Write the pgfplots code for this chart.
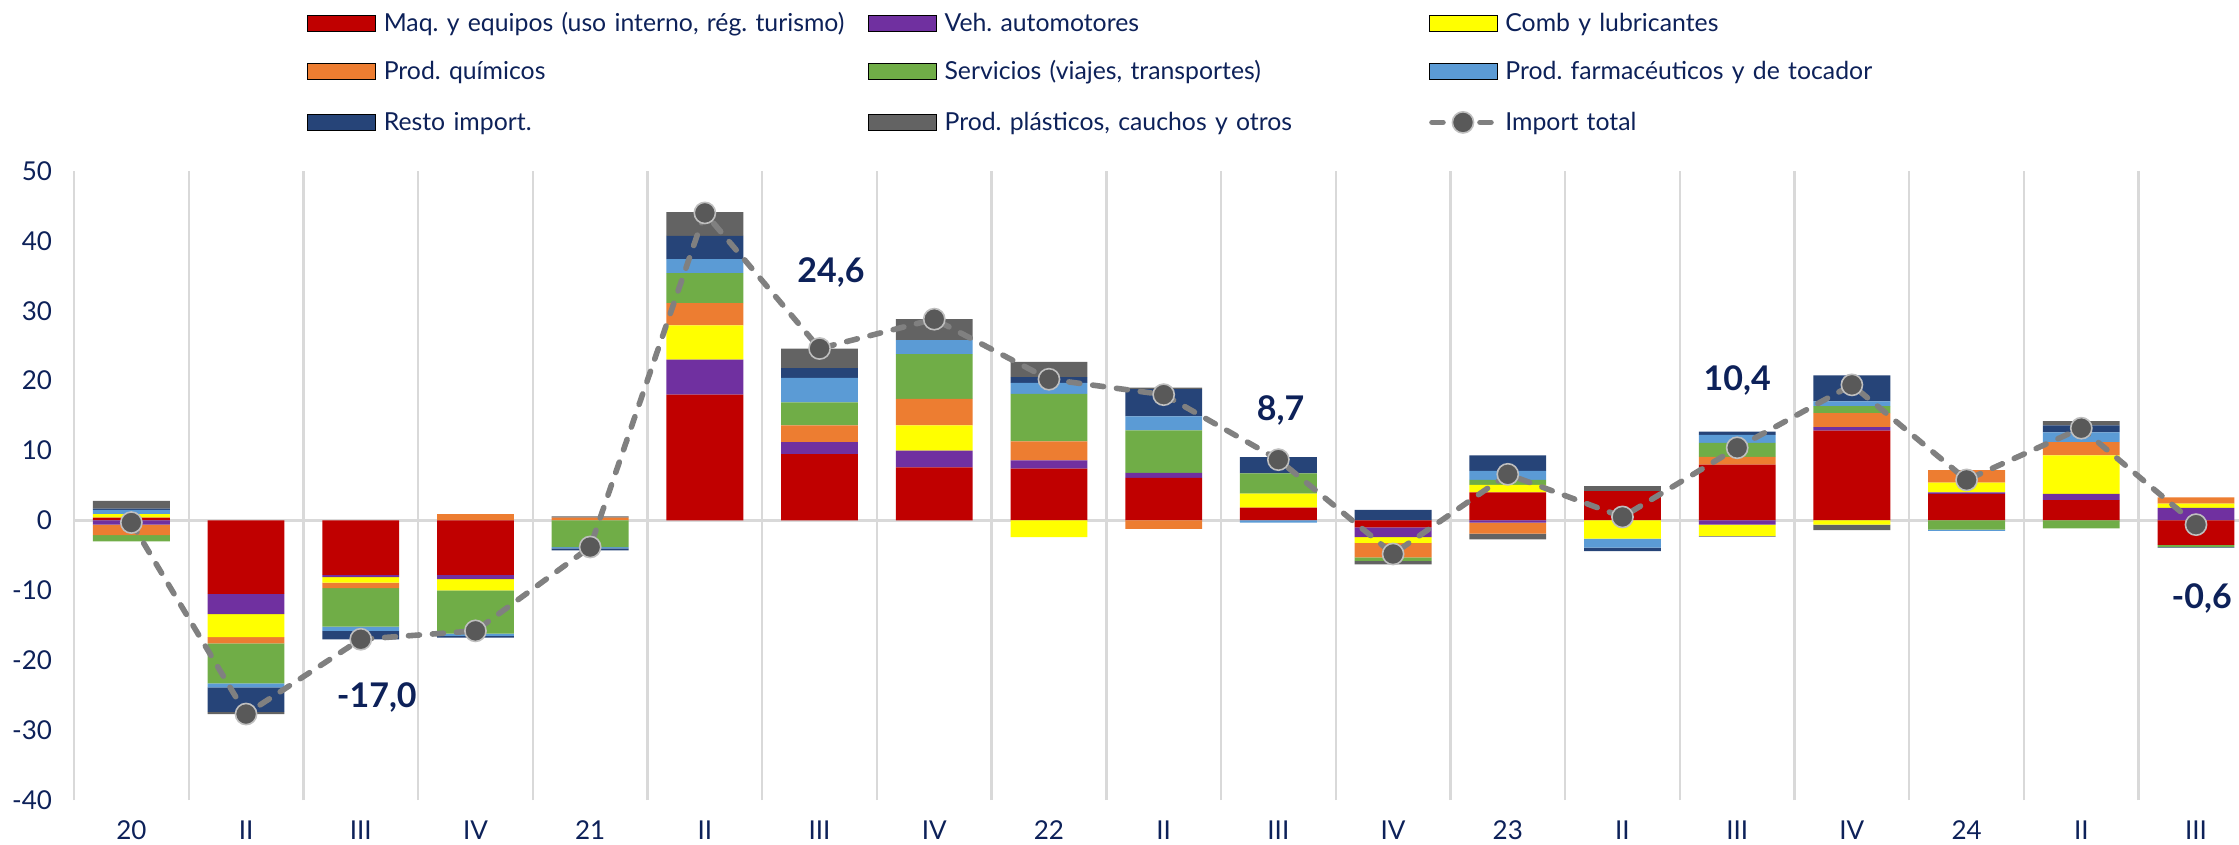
\documentclass[border=0pt]{standalone}
\usepackage{pgfplots}
\pgfplotsset{compat=1.18}
\usepackage{pgfplotstable}
\usepackage{fontspec}
\setmainfont{Lato}
\frenchspacing
\definecolor{cmaq}{HTML}{C00000}
\definecolor{cveh}{HTML}{7030A0}
\definecolor{ccomb}{HTML}{FFFF00}
\definecolor{cquim}{HTML}{ED7D31}
\definecolor{cserv}{HTML}{70AD47}
\definecolor{cfarma}{HTML}{5B9BD5}
\definecolor{cresto}{HTML}{264478}
\definecolor{cplast}{HTML}{636363}
\definecolor{navy}{HTML}{0D2159}
\definecolor{gridc}{HTML}{D9D9D9}
\definecolor{linec}{HTML}{808080}
\definecolor{markf}{HTML}{595959}
\definecolor{markb}{HTML}{BFBFBF}
\newcommand{\lb}[1]{\makebox[0pt][l]{#1}}

\pgfplotstableread{
x maq veh comb quim serv farma resto plast total
0 0.4 -0.6 0.5 -1.5 -0.9 0.6 0.2 1.1 -0.3
1 -10.5 -2.9 -3.3 -0.9 -5.7 -0.6 -3.5 -0.3 -27.7
2 -7.8 -0.3 -0.8 -0.8 -5.5 -0.6 -1.2 0 -17.0
3 -7.8 -0.6 -1.6 0.9 -6.2 -0.3 -0.25 0 -15.8
4 0 0 0 0.4 -3.8 -0.2 -0.3 0.2 -3.8
5 18.0 5.0 4.9 3.2 4.3 2.0 3.3 3.4 44.0
6 9.5 1.7 0 2.4 3.3 3.5 1.4 2.8 24.6
7 7.6 2.4 3.6 3.8 6.4 2.0 0 3.0 28.8
8 7.4 1.2 -2.4 2.7 6.8 1.6 0.8 2.2 20.2
9 6.1 0.7 0 -1.2 6.1 2.0 3.9 0.2 18.0
10 1.85 0 2.0 0 2.9 -0.3 2.3 0 8.7
11 -1.0 -1.4 -0.8 -2.1 -0.5 0 1.5 -0.5 -4.8
12 4.0 -0.3 1.1 -1.6 0.7 1.3 2.2 -0.8 6.6
13 4.2 0 -2.6 0 0 -1.3 -0.5 0.7 0.5
14 8.0 -0.6 -1.6 1.1 2.0 1.15 0.45 -0.1 10.4
15 12.85 0.5 -0.6 2.0 1.0 0.7 3.7 -0.8 19.4
16 3.8 0.2 1.4 1.8 -1.3 -0.2 0 0 5.8
17 2.9 0.9 5.5 1.9 -1.15 1.4 1.0 0.6 13.2
18 -3.5 1.8 0.6 0.9 -0.3 0 -0.1 0 -0.6
}\data

\pgfplotsset{
  base/.style={width=1082.5pt, height=314.5pt, scale only axis,
    at={(0pt,0pt)}, anchor=south west,
    xmin=-0.5, xmax=18.375, ymin=-40, ymax=50},
  barleg/.style={legend image code/.code={\fill[##1] (0pt,-2.5pt) rectangle (34pt,5.5pt);}},
  lineleg/.style={legend image code/.code={\draw[mark repeat=2, mark phase=2, ##1] plot coordinates {(1.5pt,1.5pt) (17pt,1.5pt) (32.5pt,1.5pt)};}},
}

\begin{document}
\begin{tikzpicture}
% positive parts
\begin{axis}[base, ybar stacked, bar width=0.67,
  axis line style={draw=none}, major tick length=0pt, minor tick length=0pt,
  xtick={0,...,18},
  xticklabels={20,II,III,IV,21,II,III,IV,22,II,III,IV,23,II,III,IV,24,II,III},
  minor xtick={-0.5,0.5,...,17.5}, xminorgrids,
  minor grid style={draw=gridc, line width=1.2pt},
  ytick={-40,-30,...,50},
  yticklabels={-40,-30,-20,-10,0,10,20,30,40,50},
  extra y ticks={0}, extra y tick labels={},
  extra y tick style={grid=major, major grid style={draw=gridc, line width=1.2pt}},
  tick label style={font=\fontsize{13}{15}\selectfont, text=navy},
  xticklabel shift=7pt, yticklabel shift=7.5pt]
\coordinate (bl) at (rel axis cs:0,0);
\coordinate (tr) at (rel axis cs:1,1);
\addplot[fill=cmaq, draw=none] table[x=x, y expr={max(\thisrow{maq},0)}] {\data};
\addplot[fill=cveh, draw=none] table[x=x, y expr={max(\thisrow{veh},0)}] {\data};
\addplot[fill=ccomb, draw=none] table[x=x, y expr={max(\thisrow{comb},0)}] {\data};
\addplot[fill=cquim, draw=none] table[x=x, y expr={max(\thisrow{quim},0)}] {\data};
\addplot[fill=cserv, draw=none] table[x=x, y expr={max(\thisrow{serv},0)}] {\data};
\addplot[fill=cfarma, draw=none] table[x=x, y expr={max(\thisrow{farma},0)}] {\data};
\addplot[fill=cresto, draw=none] table[x=x, y expr={max(\thisrow{resto},0)}] {\data};
\addplot[fill=cplast, draw=none] table[x=x, y expr={max(\thisrow{plast},0)}] {\data};
\end{axis}
% negative parts
\begin{axis}[base, hide axis, ybar stacked, bar width=0.67]
\addplot[fill=cmaq, draw=none] table[x=x, y expr={min(\thisrow{maq},0)}] {\data};
\addplot[fill=cveh, draw=none] table[x=x, y expr={min(\thisrow{veh},0)}] {\data};
\addplot[fill=ccomb, draw=none] table[x=x, y expr={min(\thisrow{comb},0)}] {\data};
\addplot[fill=cquim, draw=none] table[x=x, y expr={min(\thisrow{quim},0)}] {\data};
\addplot[fill=cserv, draw=none] table[x=x, y expr={min(\thisrow{serv},0)}] {\data};
\addplot[fill=cfarma, draw=none] table[x=x, y expr={min(\thisrow{farma},0)}] {\data};
\addplot[fill=cresto, draw=none] table[x=x, y expr={min(\thisrow{resto},0)}] {\data};
\addplot[fill=cplast, draw=none] table[x=x, y expr={min(\thisrow{plast},0)}] {\data};
\end{axis}
% total line, legend, labels
\begin{axis}[base, hide axis, clip=false,
  legend columns=3, legend cell align=left,
  legend style={at={(axis description cs:0.1076,1.248)}, anchor=north west,
    draw=none, fill=none, inner sep=0pt, outer sep=0pt,
    column sep=4pt, row sep=13.5pt,
    font=\fontsize{12.4}{14}\selectfont, text=navy,
    nodes={inner sep=0pt, text width=238pt, text height=7.5pt, text depth=2.5pt}}]
\addlegendimage{barleg, fill=cmaq}
\addlegendentry{\lb{Maq. y equipos (uso interno, rég. turismo)}}
\addlegendimage{barleg, fill=cveh}
\addlegendentry{\lb{Veh. automotores}}
\addlegendimage{barleg, fill=ccomb}
\addlegendentry{\lb{Comb y lubricantes}}
\addlegendimage{barleg, fill=cquim}
\addlegendentry{\lb{Prod. químicos}}
\addlegendimage{barleg, fill=cserv}
\addlegendentry{\lb{Servicios (viajes, transportes)}}
\addlegendimage{barleg, fill=cfarma}
\addlegendentry{\lb{Prod. farmacéuticos y de tocador}}
\addlegendimage{barleg, fill=cresto}
\addlegendentry{\lb{Resto import.}}
\addlegendimage{barleg, fill=cplast}
\addlegendentry{\lb{Prod. plásticos, cauchos y otros}}
\addplot[lineleg, linec, line width=2.8pt, dash pattern=on 5.5pt off 6.5pt, line cap=round,
  mark=*, mark size=5.3pt,
  mark options={solid, fill=markf, draw=markb, line width=0.8pt}]
  table[x=x, y=total] {\data};
\addlegendentry{\lb{Import total}}
\node[font=\bfseries\fontsize{17}{17}\selectfont, text=navy] at (axis cs:2.14,-25.4) {-17,0};
\node[font=\bfseries\fontsize{17}{17}\selectfont, text=navy] at (axis cs:6.1,35.5) {24,6};
\node[font=\bfseries\fontsize{17}{17}\selectfont, text=navy] at (axis cs:10.02,15.8) {8,7};
\node[font=\bfseries\fontsize{17}{17}\selectfont, text=navy] at (axis cs:14.0,20.0) {10,4};
\node[font=\bfseries\fontsize{17}{17}\selectfont, text=navy] at (axis cs:18.05,-11.1) {-0,6};
\end{axis}
\pgfresetboundingbox
\path[use as bounding box] ([xshift=-37pt,yshift=-22pt]bl) rectangle ([yshift=85.5pt]tr);
\end{tikzpicture}
\end{document}
